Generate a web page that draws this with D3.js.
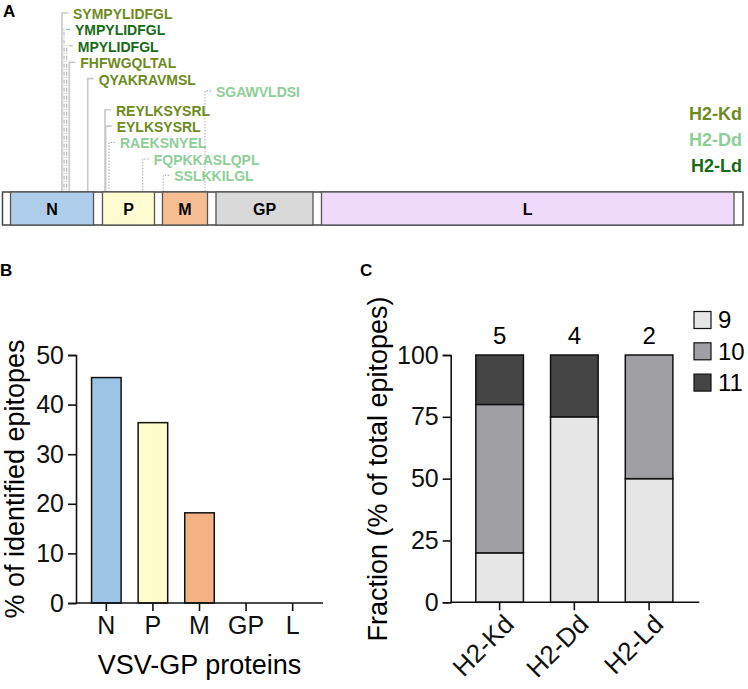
<!DOCTYPE html>
<html>
<head>
<meta charset="utf-8">
<script src="https://cdn.jsdelivr.net/npm/d3@7"></script>
<style>
  body { margin: 0; background: #fff; }
  svg { font-family: "Liberation Sans", Arial, sans-serif; }
</style>
</head>
<body>
<div class="figure"></div>
<script>
// ---- DATA ----
// genome map (approx. nucleotide positions)
const genomeLength = 11161;
const segNames = ["N", "P", "M", "GP", "L"];
const segStart = [121, 1507, 2411, 3218, 4808];
const segEnd = [1372, 2291, 3090, 4680, 11025];
const segColors = ["#aecdea", "#fffcd2", "#f7bd93", "#d9d9d9", "#f0dafc"];

const epiNames = ["SYMPYLIDFGL", "YMPYLIDFGL", "MPYLIDFGL", "FHFWGQLTAL", "QYAKRAVMSL",
  "SGAWVLDSI", "REYLKSYSRL", "EYLKSYSRL", "RAEKSNYEL", "FQPKKASLQPL", "SSLKKILGL"];
const epiAllele = ["H2-Kd", "H2-Ld", "H2-Ld", "H2-Kd", "H2-Kd",
  "H2-Dd", "H2-Kd", "H2-Kd", "H2-Dd", "H2-Dd", "H2-Dd"];
const epiPos = [897, 927, 968, 1007, 1284, 3052, 1545, 1555, 1605, 2113, 2423];
const epiRow = [0, 1, 2, 3, 4, 4.75, 5.9, 6.9, 7.9, 8.9, 9.9];

const alleles = ["H2-Kd", "H2-Dd", "H2-Ld"];
const alleleColors = ["#6e8b1e", "#8dcf97", "#176b17"];
const alleleDash = ["none", "1.5,1.5", "4,1.5,1,1.5"];

// panel B
const proteins = ["N", "P", "M", "GP", "L"];
const pctEpitopes = [45.45, 36.36, 18.18, 0, 0];
const proteinColors = ["#9dc3e6", "#fffdcc", "#f4b183", "#cccccc", "#eeeeee"];
const yTicksB = [0, 10, 20, 30, 40, 50];

// panel C
const lengths = ["9", "10", "11"];
const frac9 = [20, 75, 50];
const frac10 = [60, 0, 50];
const frac11 = [20, 25, 0];
const totals = [5, 4, 2];
const lengthColors = ["#e6e6e6", "#a0a0a4", "#454545"];
const yTicksC = [0, 25, 50, 75, 100];

const W = 748, H = 689;
const svg = d3.select(".figure").append("svg").attr("width", W).attr("height", H);

// ================= PANEL A =================
const gA = svg.append("g");
gA.append("text").attr("x", 3).attr("y", 17).attr("font-size", 17).attr("font-weight", "bold").text("A");

const gx = d3.scaleLinear().domain([0, genomeLength]).range([2.5, 743]);
const rowY = d3.scaleLinear().domain([0, 10]).range([13, 177]);
const barTop = 192, barH = 33;
const alleleColor = d3.scaleOrdinal().domain(alleles).range(alleleColors);
const alleleStroke = d3.scaleOrdinal().domain(alleles).range(alleleDash);

// leader lines
const epi = epiNames.map((n, i) => ({ name: n, allele: epiAllele[i], pos: epiPos[i], row: epiRow[i] }));
gA.selectAll(".leader").data(epi).enter().append("path")
  .attr("class", "leader")
  .attr("fill", "none")
  .attr("stroke", d => d.allele === "H2-Kd" ? "#c9c9c9" : "#b3b3b3")
  .attr("stroke-width", d => d.allele === "H2-Kd" ? 1.6 : 1.1)
  .attr("stroke-dasharray", d => alleleStroke(d.allele))
  .attr("d", d => {
    const x = gx(d.pos), y = rowY(d.row);
    return "M" + (x + 6) + "," + y + "H" + x + "V" + barTop;
  });

gA.selectAll(".epi").data(epi).enter().append("text")
  .attr("class", "epi")
  .attr("x", d => gx(d.pos) + 11)
  .attr("y", d => rowY(d.row) + 1)
  .attr("dy", "0.35em")
  .attr("font-size", 14)
  .attr("font-weight", "bold")
  .attr("fill", d => alleleColor(d.allele))
  .text(d => d.name);

// genome bar
gA.append("rect").attr("x", gx(0)).attr("y", barTop)
  .attr("width", gx(genomeLength) - gx(0)).attr("height", barH)
  .attr("fill", "#fff").attr("stroke", "#444").attr("stroke-width", 1.5);

const segs = segNames.map((n, i) => ({ name: n, s: segStart[i], e: segEnd[i], c: segColors[i] }));
gA.selectAll(".seg").data(segs).enter().append("rect")
  .attr("class", "seg")
  .attr("x", d => gx(d.s)).attr("y", barTop)
  .attr("width", d => gx(d.e) - gx(d.s)).attr("height", barH)
  .attr("fill", d => d.c).attr("stroke", "#555").attr("stroke-width", 1.3);

gA.selectAll(".segLabel").data(segs).enter().append("text")
  .attr("class", "segLabel")
  .attr("x", d => (gx(d.s) + gx(d.e)) / 2)
  .attr("y", barTop + barH / 2 + 1)
  .attr("dy", "0.35em")
  .attr("text-anchor", "middle")
  .attr("font-size", 16).attr("font-weight", "bold")
  .text(d => d.name);

// allele legend
gA.selectAll(".alleleKey").data(alleles).enter().append("text")
  .attr("class", "alleleKey")
  .attr("x", 742)
  .attr("y", (d, i) => 114 + i * 26)
  .attr("dy", "0.35em")
  .attr("text-anchor", "end")
  .attr("font-size", 18).attr("font-weight", "bold")
  .attr("fill", d => alleleColor(d))
  .text(d => d);

// ================= PANEL B =================
svg.append("text").attr("x", 0).attr("y", 276).attr("font-size", 17).attr("font-weight", "bold").text("B");

const xB = d3.scaleBand().domain(proteins).range([76, 323]).paddingInner(0.366).paddingOuter(0.334);
const yB = d3.scaleLinear().domain([0, 50]).range([603, 355]);
const gB = svg.append("g");

gB.selectAll(".barB").data(proteins).enter().append("rect")
  .attr("class", "barB")
  .attr("x", d => xB(d))
  .attr("y", (d, i) => yB(pctEpitopes[i]))
  .attr("width", xB.bandwidth())
  .attr("height", (d, i) => yB(0) - yB(pctEpitopes[i]))
  .attr("fill", (d, i) => proteinColors[i])
  .attr("stroke", "#111").attr("stroke-width", 1.5)
  .style("display", (d, i) => pctEpitopes[i] > 0 ? null : "none");

gB.append("g").attr("class", "axis")
  .attr("transform", "translate(76,0)")
  .call(d3.axisLeft(yB).tickValues(yTicksB).tickSize(8).tickPadding(4));
const xAxisB = gB.append("g").attr("class", "axis")
  .attr("transform", "translate(0,603)")
  .call(d3.axisBottom(xB).tickSize(8).tickPadding(5));
xAxisB.select(".domain").attr("d", "M76,0H323");

gB.append("text")
  .attr("transform", "translate(24,479) rotate(-90)")
  .attr("text-anchor", "middle")
  .attr("font-size", 27)
  .text("% of identified epitopes");
gB.append("text")
  .attr("x", (76 + 323) / 2)
  .attr("y", 674)
  .attr("text-anchor", "middle")
  .attr("font-size", 27)
  .text("VSV-GP proteins");

// ================= PANEL C =================
svg.append("text").attr("x", 360).attr("y", 276).attr("font-size", 17).attr("font-weight", "bold").text("C");

const xC = d3.scaleBand().domain(alleles).range([450.7, 698]).paddingInner(0.363).paddingOuter(0.336);
const yC = d3.scaleLinear().domain([0, 100]).range([602.3, 355]);
const gC = svg.append("g");

const table = alleles.map((a, i) => ({ allele: a, "9": frac9[i], "10": frac10[i], "11": frac11[i] }));
const stacked = d3.stack().keys(lengths)(table);
const color = d3.scaleOrdinal().domain(lengths).range(lengthColors);

gC.selectAll(".layer").data(stacked).enter().append("g")
  .attr("class", "layer")
  .attr("fill", d => color(d.key))
  .selectAll("rect").data(d => d.filter(v => v[1] > v[0])).enter().append("rect")
  .attr("x", d => xC(d.data.allele))
  .attr("y", d => yC(d[1]))
  .attr("width", xC.bandwidth())
  .attr("height", d => yC(d[0]) - yC(d[1]))
  .attr("stroke", "#111").attr("stroke-width", 1.5);

gC.selectAll(".total").data(alleles).enter().append("text")
  .attr("class", "total")
  .attr("x", d => xC(d) + xC.bandwidth() / 2)
  .attr("y", 344)
  .attr("text-anchor", "middle")
  .attr("font-size", 24)
  .text((d, i) => totals[i]);

gC.append("g").attr("class", "axis")
  .attr("transform", "translate(450.7,0)")
  .call(d3.axisLeft(yC).tickValues(yTicksC).tickSize(8).tickPadding(4));
const xAxisC = gC.append("g").attr("class", "axis rot")
  .attr("transform", "translate(0,602.3)")
  .call(d3.axisBottom(xC).tickSize(8).tickPadding(4));
xAxisC.select(".domain").attr("d", "M450.7,0H699.3");

gC.append("text")
  .attr("transform", "translate(387,469) rotate(-90)")
  .attr("text-anchor", "middle")
  .attr("font-size", 27)
  .text("Fraction (% of total epitopes)");

// legend
const leg = gC.selectAll(".leg").data(lengths).enter().append("g")
  .attr("class", "leg")
  .attr("transform", (d, i) => "translate(694," + (320 + i * 31.3) + ")");
leg.append("rect").attr("x", 0).attr("y", -8.5).attr("width", 17).attr("height", 17)
  .attr("fill", d => color(d)).attr("stroke", "#111").attr("stroke-width", 1.2);
leg.append("text").attr("x", 24).attr("dy", "0.35em").attr("font-size", 24).text(d => d);

// axis styling
svg.selectAll(".axis .domain").attr("stroke", "#111").attr("stroke-width", 1.6);
svg.selectAll(".axis .tick line").attr("stroke", "#111").attr("stroke-width", 1.6);
svg.selectAll(".axis .tick text").attr("font-size", 25).attr("fill", "#111")
  .attr("font-family", "Liberation Sans, Arial, sans-serif");
xAxisC.selectAll(".tick text")
  .attr("font-size", 26)
  .attr("text-anchor", "end")
  .attr("dy", 0)
  .attr("transform", "translate(7.5,15) rotate(-45)");
</script>
</body>
</html>
